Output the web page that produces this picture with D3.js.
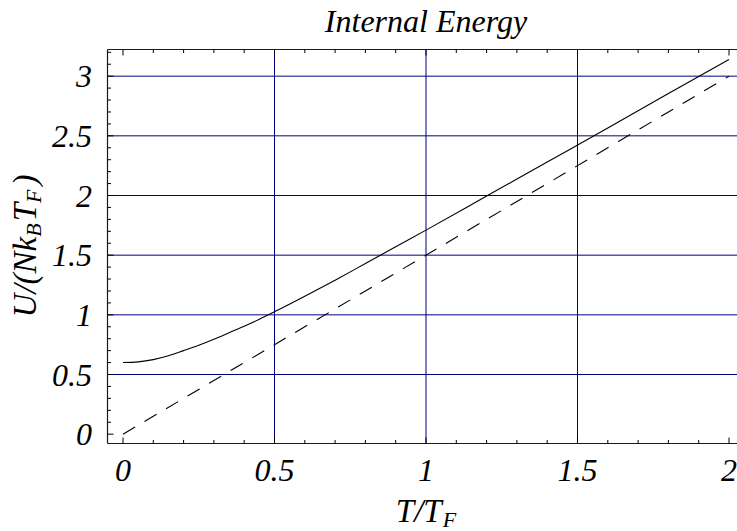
<!DOCTYPE html>
<html>
<head>
<meta charset="utf-8">
<script src="https://cdn.jsdelivr.net/npm/d3@7"></script>
<style>
  html, body { margin: 0; padding: 0; background: #fff; }
  svg { display: block; }
  text { font-family: "Liberation Serif", "DejaVu Serif", serif; font-style: italic; fill: #000; }
</style>
</head>
<body>
<svg id="chart" width="737" height="531"></svg>
<script>
// Reduced temperature T/T_F and internal energy per particle U/(N k_B T_F) of the ideal Fermi gas
const tValues = [0, 0.05, 0.1, 0.15, 0.2, 0.25, 0.3, 0.35, 0.4, 0.45, 0.5, 0.6, 0.7, 0.8, 0.9, 1.0, 1.2, 1.4, 1.6, 1.8, 2.0];
const fermiEnergy = [0.600, 0.606, 0.625, 0.657, 0.700, 0.745, 0.795, 0.850, 0.905, 0.963, 1.025, 1.155, 1.290, 1.430, 1.570, 1.710, 1.995, 2.280, 2.565, 2.855, 3.140];
// Classical limit 3/2 k_B T
const classicalT = [0, 2];
const classicalEnergy = [0, 3];

const xTicks = [0, 0.5, 1, 1.5, 2];
const yTicks = [0, 0.5, 1, 1.5, 2, 2.5, 3];
const xGrid = [0.5, 1, 1.5];
const yGrid = [0.5, 1, 1.5, 2, 2.5, 3];

const titleText = "Internal Energy";

const svg = d3.select("#chart");

const x = d3.scaleLinear().domain([0, 2]).range([123, 729]);
const y = d3.scaleLinear().domain([0, 3]).range([434.17, 76.17]);

// plot frame extents in data units
const xMin = x.invert(107.5), xMax = x.invert(745);
const yMin = y.invert(443.5), yMax = y.invert(49.5);

// grid
const grid = svg.append("g").attr("stroke", "#000080").attr("stroke-width", 1);
grid.selectAll("line.gx").data(xGrid).join("line")
  .attr("x1", d => x(d)).attr("x2", d => x(d))
  .attr("y1", y(yMin)).attr("y2", y(yMax));
grid.selectAll("line.gy").data(yGrid).join("line")
  .attr("x1", x(xMin)).attr("x2", x(xMax))
  .attr("y1", d => y(d)).attr("y2", d => y(d));

// curves
const line = d3.line().x(d => x(d[0])).y(d => y(d[1]));
svg.append("path")
  .datum(classicalT.map((t, i) => [t, classicalEnergy[i]]))
  .attr("d", line)
  .attr("fill", "none").attr("stroke", "#000").attr("stroke-width", 1.1)
  .attr("stroke-dasharray", "14,11");
svg.append("path")
  .datum(tValues.map((t, i) => [t, fermiEnergy[i]]))
  .attr("d", line.curve(d3.curveMonotoneX))
  .attr("fill", "none").attr("stroke", "#000").attr("stroke-width", 1.1);

// frame
const frame = svg.append("g").attr("stroke", "#1a1a1a").attr("stroke-width", 1.2).attr("fill", "none");
frame.append("line").attr("x1", x(xMin)).attr("x2", x(xMin)).attr("y1", y(yMin)).attr("y2", y(yMax));
frame.append("line").attr("x1", x(xMin)).attr("x2", x(xMax)).attr("y1", y(yMin)).attr("y2", y(yMin));
frame.append("line").attr("x1", x(xMin)).attr("x2", x(xMax)).attr("y1", y(yMax)).attr("y2", y(yMax));

// ticks
const minorX = d3.range(0, 21).map(i => i / 10).filter(v => !xTicks.includes(v));
const minorY = d3.range(0, 33).map(i => i / 10).filter(v => !yTicks.includes(v));
const ticks = svg.append("g").attr("stroke", "#000").attr("stroke-width", 1);
const major = 6, minor = 3.5;
[[xTicks, major], [minorX, minor]].forEach(([vals, len]) => {
  vals.forEach(v => {
    ticks.append("line").attr("x1", x(v)).attr("x2", x(v)).attr("y1", y(yMin)).attr("y2", y(yMin) - len);
    ticks.append("line").attr("x1", x(v)).attr("x2", x(v)).attr("y1", y(yMax)).attr("y2", y(yMax) + len);
  });
});
[[yTicks, major], [minorY, minor]].forEach(([vals, len]) => {
  vals.forEach(v => {
    ticks.append("line").attr("x1", x(xMin)).attr("x2", x(xMin) + len).attr("y1", y(v)).attr("y2", y(v));
  });
});

// tick labels
svg.append("g").selectAll("text").data(xTicks).join("text")
  .attr("x", d => x(d)).attr("y", 481)
  .attr("text-anchor", "middle").attr("font-size", 32)
  .text(d => String(d));
svg.append("g").selectAll("text").data(yTicks).join("text")
  .attr("x", 92).attr("y", d => y(d) + 11)
  .attr("text-anchor", "end").attr("font-size", 32)
  .text(d => String(d));

// title
svg.append("text").attr("x", 426).attr("y", 32)
  .attr("text-anchor", "middle").attr("font-size", 32).text(titleText);

// x axis label: T/T_F
const xl = svg.append("text").attr("x", 426).attr("y", 522)
  .attr("text-anchor", "middle").attr("font-size", 33);
xl.append("tspan").text("T/T");
xl.append("tspan").attr("font-size", 22).attr("dx", 1).attr("dy", 5).text("F");

// y axis label: U/(N k_B T_F)
const yl = svg.append("text")
  .attr("transform", "translate(36,246) rotate(-90)")
  .attr("text-anchor", "middle").attr("font-size", 33);
yl.append("tspan").text("U/(Nk");
yl.append("tspan").attr("font-size", 22).attr("dy", 5).text("B");
yl.append("tspan").attr("dx", 2).attr("dy", -5).text("T");
yl.append("tspan").attr("font-size", 22).attr("dy", 5).text("F");
yl.append("tspan").attr("dx", 4).attr("dy", -5).text(")");
</script>
</body>
</html>
